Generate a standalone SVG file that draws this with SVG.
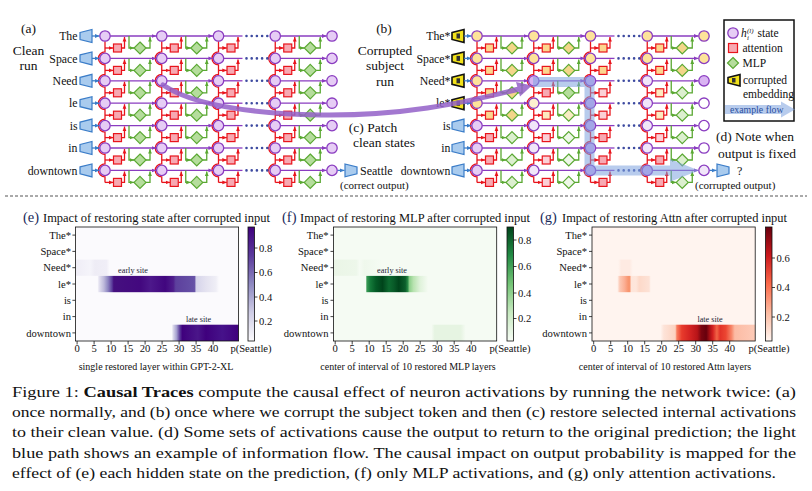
<svg xmlns="http://www.w3.org/2000/svg" width="812" height="491" viewBox="0 0 812 491">
<style>
text{font-family:"Liberation Serif","Times New Roman",serif;fill:#111}
.tok{font-size:11.8px;text-anchor:end}
.lbl{font-size:13.5px;text-anchor:middle}
.sm{font-size:11px}
.lg{font-size:11.5px}
.pu{stroke:#8a3cc0;stroke-width:1.3;fill:none}
.rd{stroke:#e8141c;stroke-width:1.3;fill:none}
.gn{stroke:#5aa832;stroke-width:1.3;fill:none}
.bl{stroke:#3a7cc8;stroke-width:1.3;fill:none}
.nd{stroke:#8a3cc0;stroke-width:1.3}
.bx{stroke:#e8141c;stroke-width:1.2}
.dm{stroke:#5aa832;stroke-width:1.2}
.emb{fill:#a9cbee;stroke:#3a7cc8;stroke-width:1.2}
.cemb{fill:#f2e21a;stroke:#111;stroke-width:1.6}
.dots{stroke:#3d4aa0;stroke-width:2.6;stroke-dasharray:0 5.2;stroke-linecap:round;fill:none}
.hm{font-size:10.6px}
.hr{font-size:10.6px;text-anchor:end}
.hc{font-size:10.6px;text-anchor:middle}
.xl{font-size:10px;text-anchor:middle}
.site{font-size:8.2px;text-anchor:middle;fill:#223}
.ttl{font-size:13px}
.pl{font-size:14.5px;fill:#1a2a5a}
.tk{stroke:#111;stroke-width:0.8}
.fr{fill:none;stroke:#111;stroke-width:0.8}
.cap{font-size:15.5px}
.Y{fill:#fde39a}.P{fill:#e6cdf5}.LY{fill:#fdf1cf}.W{fill:#ffffff}.LP{fill:#f1e6f9}.R{fill:#d9b3f2}.D{fill:#cfaaf0}
.PK{fill:#f7a9b2}.YB{fill:#fcd58e}.LYB{fill:#fdeac0}.LPK{fill:#fbd0d6}
.G{fill:#b5dd9c}.YD{fill:#f3d68a}.LG{fill:#dcefcf}.LYD{fill:#f8ecc4}.WG{fill:#eef7e8}
</style>
<defs>
<marker id="aP" markerUnits="userSpaceOnUse" markerWidth="5" markerHeight="5" refX="4.5" refY="2.5" orient="auto"><path d="M0,0.6 L4.5,2.5 L0,4.4z" fill="#8a3cc0"/></marker>
<marker id="aR" markerUnits="userSpaceOnUse" markerWidth="5" markerHeight="5" refX="4.5" refY="2.5" orient="auto"><path d="M0,0.6 L4.5,2.5 L0,4.4z" fill="#e8141c"/></marker>
<marker id="aG" markerUnits="userSpaceOnUse" markerWidth="5" markerHeight="5" refX="4.5" refY="2.5" orient="auto"><path d="M0,0.6 L4.5,2.5 L0,4.4z" fill="#5aa832"/></marker>
<marker id="aB" markerUnits="userSpaceOnUse" markerWidth="5" markerHeight="5" refX="4.5" refY="2.5" orient="auto"><path d="M0,0.6 L4.5,2.5 L0,4.4z" fill="#3a7cc8"/></marker>
<g id="cF">
<path class="pu" d="M5.2,0 H51.2" marker-end="url(#aP)"/>
<path class="rd" d="M0,12 H8.3" marker-end="url(#aR)"/>
<path class="rd" d="M16.5,12 H19.5 V1" marker-end="url(#aR)"/>
<path class="gn" d="M24,0 V12 H29" marker-end="url(#aG)"/>
<path class="gn" d="M41,12 H45 V1" marker-end="url(#aG)"/>
</g>
<g id="cH">
<path class="pu" d="M5.2,0 H24"/>
<path class="rd" d="M0,12 H8.3" marker-end="url(#aR)"/>
<path class="rd" d="M16.5,12 H19.5 V1" marker-end="url(#aR)"/>
<path class="dots" d="M28,0 H50"/>
</g>
<g id="rowL"><use href="#cF" x="105"/><use href="#cF" x="161.75"/><use href="#cH" x="218.5"/><use href="#cF" x="275.25"/></g>
<path id="rv" class="rd" d="M0,41.2 V51.9 a6.5,6.5 0 0 0 0,13 V74.3 a6.5,6.5 0 0 0 0,13 V96.7 a6.5,6.5 0 0 0 0,13 V119.1 a6.5,6.5 0 0 0 0,13 V141.5 a6.5,6.5 0 0 0 0,13 V163.9 a6.5,6.5 0 0 0 0,13 V182.4"/>
<rect id="bx" class="bx" x="8.5" y="8" width="8" height="8"/>
<polygon id="dm" class="dm" points="35,6 41,12 35,18 29,12"/>
<circle id="nd" class="nd" r="5.2"/>
<g id="rowFA">
<use href="#bx" x="105" class="PK"/><use href="#bx" x="161.75" class="PK"/><use href="#bx" x="218.5" class="PK"/><use href="#bx" x="275.25" class="PK"/>
<use href="#dm" x="105" class="G"/><use href="#dm" x="161.75" class="G"/><use href="#dm" x="275.25" class="G"/>
<use href="#nd" x="105" class="P"/><use href="#nd" x="161.75" class="P"/><use href="#nd" x="218.5" class="P"/><use href="#nd" x="275.25" class="P"/><use href="#nd" x="332" class="P"/>
</g>
<g id="inB"><polygon class="emb" points="80,-3.5 92,-6.5 92,6.5 80,3.5"/><path class="bl" d="M92,0 H99.5" marker-end="url(#aB)"/></g>
<g id="inC"><polygon class="cemb" points="452,-3.5 464,-6.5 464,6.5 452,3.5"/><rect x="456.5" y="-2.5" width="3.5" height="5" fill="#333"/><path class="bl" d="M464,0 H471.5" marker-end="url(#aB)"/></g>
<linearGradient id="eNeed"><stop offset="0" stop-color="#efedf6"/><stop offset="0.09" stop-color="#f5f4fa"/><stop offset="0.12" stop-color="#eeecf5"/><stop offset="0.19" stop-color="#f0eef7"/><stop offset="0.21" stop-color="#fbfafd"/></linearGradient>
<linearGradient id="eLe"><stop offset="0" stop-color="#fbfafd"/><stop offset="0.135" stop-color="#fbfafd"/><stop offset="0.145" stop-color="#e4e2f0"/><stop offset="0.175" stop-color="#bcb8da"/><stop offset="0.2" stop-color="#8c84c0"/><stop offset="0.225" stop-color="#5a3a9a"/><stop offset="0.235" stop-color="#45107f"/><stop offset="0.4" stop-color="#43087f"/><stop offset="0.46" stop-color="#4d188b"/><stop offset="0.55" stop-color="#41067f"/><stop offset="0.6" stop-color="#4f1e8c"/><stop offset="0.615" stop-color="#5d409d"/><stop offset="0.72" stop-color="#6550a6"/><stop offset="0.733" stop-color="#6a55a8"/><stop offset="0.738" stop-color="#d5d3ea"/><stop offset="0.8" stop-color="#e4e2f0"/><stop offset="0.86" stop-color="#efeef6"/><stop offset="0.88" stop-color="#fbfafd"/><stop offset="1" stop-color="#fbfafd"/></linearGradient>
<linearGradient id="eDown"><stop offset="0" stop-color="#fbfafd"/><stop offset="0.59" stop-color="#fbfafd"/><stop offset="0.6" stop-color="#d8d6ea"/><stop offset="0.62" stop-color="#a59fcf"/><stop offset="0.64" stop-color="#5a3a9a"/><stop offset="0.655" stop-color="#3f007d"/><stop offset="0.75" stop-color="#4a1689"/><stop offset="0.8" stop-color="#3f007d"/><stop offset="0.9" stop-color="#46128a"/><stop offset="1" stop-color="#3f007d"/></linearGradient>
<linearGradient id="fNeed"><stop offset="0" stop-color="#eaf5e6"/><stop offset="0.14" stop-color="#edf7ea"/><stop offset="0.16" stop-color="#f5fbf3"/><stop offset="0.19" stop-color="#eff8ec"/><stop offset="0.3" stop-color="#f5fbf3"/></linearGradient>
<linearGradient id="fLe"><stop offset="0" stop-color="#f5fbf3"/><stop offset="0.198" stop-color="#f5fbf3"/><stop offset="0.204" stop-color="#3a9a55"/><stop offset="0.225" stop-color="#157a3a"/><stop offset="0.26" stop-color="#045a26"/><stop offset="0.3" stop-color="#00441b"/><stop offset="0.34" stop-color="#0d6a30"/><stop offset="0.37" stop-color="#085a28"/><stop offset="0.4" stop-color="#00441b"/><stop offset="0.44" stop-color="#0c5f2c"/><stop offset="0.455" stop-color="#2a8c48"/><stop offset="0.465" stop-color="#8ccf8a"/><stop offset="0.49" stop-color="#b8e3b0"/><stop offset="0.53" stop-color="#dff2da"/><stop offset="0.58" stop-color="#f5fbf3"/><stop offset="1" stop-color="#f5fbf3"/></linearGradient>
<linearGradient id="fDown"><stop offset="0" stop-color="#f5fbf3"/><stop offset="0.6" stop-color="#f5fbf3"/><stop offset="0.62" stop-color="#e6f4e2"/><stop offset="0.78" stop-color="#e6f4e2"/><stop offset="0.81" stop-color="#f5fbf3"/><stop offset="1" stop-color="#f5fbf3"/></linearGradient>
<linearGradient id="gNeed"><stop offset="0" stop-color="#fff4ef"/><stop offset="0.16" stop-color="#fff4ef"/><stop offset="0.18" stop-color="#feeae2"/><stop offset="0.23" stop-color="#feeae2"/><stop offset="0.25" stop-color="#fff4ef"/><stop offset="1" stop-color="#fff4ef"/></linearGradient>
<linearGradient id="gLe"><stop offset="0" stop-color="#fff4ef"/><stop offset="0.155" stop-color="#fff4ef"/><stop offset="0.17" stop-color="#fcc9b5"/><stop offset="0.2" stop-color="#fbae93"/><stop offset="0.222" stop-color="#f8956f"/><stop offset="0.232" stop-color="#f8956f"/><stop offset="0.24" stop-color="#fee5da"/><stop offset="0.27" stop-color="#fee6db"/><stop offset="0.29" stop-color="#fdd9c9"/><stop offset="0.35" stop-color="#fde2d6"/><stop offset="0.36" stop-color="#fff4ef"/><stop offset="1" stop-color="#fff4ef"/></linearGradient>
<linearGradient id="gDown"><stop offset="0" stop-color="#fff4ef"/><stop offset="0.42" stop-color="#fff4ef"/><stop offset="0.44" stop-color="#fde3d8"/><stop offset="0.51" stop-color="#fcd2c0"/><stop offset="0.52" stop-color="#f87a5c"/><stop offset="0.55" stop-color="#e83b2c"/><stop offset="0.6" stop-color="#d42322"/><stop offset="0.645" stop-color="#b81418"/><stop offset="0.67" stop-color="#7a0510"/><stop offset="0.7" stop-color="#67000d"/><stop offset="0.72" stop-color="#a50f15"/><stop offset="0.74" stop-color="#d42020"/><stop offset="0.765" stop-color="#f26446"/><stop offset="0.785" stop-color="#e23228"/><stop offset="0.82" stop-color="#ec4632"/><stop offset="0.855" stop-color="#f7876a"/><stop offset="0.875" stop-color="#fcbba4"/><stop offset="1" stop-color="#fdcbb8"/></linearGradient>
<linearGradient id="cbP" x1="0" y1="0" x2="0" y2="1"><stop offset="0" stop-color="#3f007d"/><stop offset="0.25" stop-color="#5b3a9b"/><stop offset="0.5" stop-color="#8e89c1"/><stop offset="0.75" stop-color="#cfcde5"/><stop offset="1" stop-color="#fcfbfd"/></linearGradient>
<linearGradient id="cbG" x1="0" y1="0" x2="0" y2="1"><stop offset="0" stop-color="#00441b"/><stop offset="0.25" stop-color="#238b45"/><stop offset="0.5" stop-color="#74c476"/><stop offset="0.75" stop-color="#c7e9c0"/><stop offset="1" stop-color="#f7fcf5"/></linearGradient>
<linearGradient id="cbR" x1="0" y1="0" x2="0" y2="1"><stop offset="0" stop-color="#67000d"/><stop offset="0.25" stop-color="#cb181d"/><stop offset="0.5" stop-color="#fb6a4a"/><stop offset="0.75" stop-color="#fcbba1"/><stop offset="1" stop-color="#fff5f0"/></linearGradient>
</defs>
<rect width="812" height="491" fill="#fff"/>

<g id="connectors">
<use href="#rv" x="105"/><use href="#rv" x="161.75"/><use href="#rv" x="218.5"/><use href="#rv" x="275.25"/>
<use href="#rv" x="477"/><use href="#rv" x="533.75"/><use href="#rv" x="590.5"/><use href="#rv" x="647.25"/>
<use href="#rowL" y="36"/><use href="#rowL" y="58.4"/><use href="#rowL" y="80.8"/><use href="#rowL" y="103.2"/><use href="#rowL" y="125.6"/><use href="#rowL" y="148"/><use href="#rowL" y="170.4"/>
<use href="#rowL" x="372" y="36"/><use href="#rowL" x="372" y="58.4"/><use href="#rowL" x="372" y="80.8"/><use href="#rowL" x="372" y="103.2"/><use href="#rowL" x="372" y="125.6"/><use href="#rowL" x="372" y="148"/><use href="#rowL" x="372" y="170.4"/>
<path class="bl" d="M337.2,170.4 H344.5" marker-end="url(#aB)"/>
<path class="bl" d="M709.2,170.4 H716.5" marker-end="url(#aB)"/>
</g>

<g id="panel-a">
<text x="28.5" y="33" class="lbl">(a)</text>
<text x="28.5" y="55" class="lbl">Clean</text>
<text x="28.5" y="69.5" class="lbl">run</text>
<text x="77.5" y="40.2" class="tok">The</text>
<text x="77.5" y="62.6" class="tok">Space</text>
<text x="77.5" y="85" class="tok">Need</text>
<text x="77.5" y="107.4" class="tok">le</text>
<text x="77.5" y="129.8" class="tok">is</text>
<text x="77.5" y="152.2" class="tok">in</text>
<text x="77.5" y="174.6" class="tok">downtown</text>
<use href="#inB" y="36"/><use href="#inB" y="58.4"/><use href="#inB" y="80.8"/><use href="#inB" y="103.2"/><use href="#inB" y="125.6"/><use href="#inB" y="148"/><use href="#inB" y="170.4"/>
<use href="#rowFA" y="36"/><use href="#rowFA" y="58.4"/><use href="#rowFA" y="80.8"/><use href="#rowFA" y="103.2"/><use href="#rowFA" y="125.6"/><use href="#rowFA" y="148"/><use href="#rowFA" y="170.4"/>
<polygon class="emb" points="345,164 357,167 357,173.8 345,176.8"/>
<text x="360" y="174.5" font-size="12">Seattle</text>
<text x="340" y="189" class="sm">(correct output)</text>
<text x="373" y="132" class="lbl" font-size="14">(c) Patch</text>
<text x="384" y="147" class="lbl">clean states</text>
</g>

<g id="panel-b">
<text x="384" y="33" class="lbl">(b)</text>
<text x="385" y="55" class="lbl">Corrupted</text>
<text x="385" y="69.5" class="lbl">subject</text>
<text x="385" y="86" class="lbl">run</text>
<text x="450.5" y="40.2" class="tok">The*</text>
<text x="450.5" y="62.6" class="tok">Space*</text>
<text x="450.5" y="85" class="tok">Need*</text>
<text x="450.5" y="107.4" class="tok">le*</text>
<text x="450.5" y="129.8" class="tok">is</text>
<text x="450.5" y="152.2" class="tok">in</text>
<text x="450.5" y="174.6" class="tok">downtown</text>
<use href="#inC" y="36"/><use href="#inC" y="58.4"/><use href="#inC" y="80.8"/><use href="#inC" y="103.2"/>
<use href="#inB" x="372" y="125.6"/><use href="#inB" x="372" y="148"/><use href="#inB" x="372" y="170.4"/>
<g id="b-row0" transform="translate(0,36)">
<use href="#bx" x="477" class="YB"/><use href="#bx" x="533.75" class="YB"/><use href="#bx" x="590.5" class="YB"/><use href="#bx" x="647.25" class="YB"/>
<use href="#dm" x="477" class="YD"/><use href="#dm" x="533.75" class="YD"/><use href="#dm" x="647.25" class="YD"/>
<use href="#nd" x="477" class="Y"/><use href="#nd" x="533.75" class="Y"/><use href="#nd" x="590.5" class="Y"/><use href="#nd" x="647.25" class="Y"/><use href="#nd" x="704" class="Y"/>
</g>
<g id="b-row1" transform="translate(0,58.4)">
<use href="#bx" x="477" class="YB"/><use href="#bx" x="533.75" class="YB"/><use href="#bx" x="590.5" class="YB"/><use href="#bx" x="647.25" class="YB"/>
<use href="#dm" x="477" class="YD"/><use href="#dm" x="533.75" class="YD"/><use href="#dm" x="647.25" class="YD"/>
<use href="#nd" x="477" class="Y"/><use href="#nd" x="533.75" class="Y"/><use href="#nd" x="590.5" class="Y"/><use href="#nd" x="647.25" class="Y"/><use href="#nd" x="704" class="Y"/>
</g>
<g id="b-row2" transform="translate(0,80.8)">
<use href="#bx" x="477" class="YB"/><use href="#bx" x="533.75" class="PK"/><use href="#bx" x="590.5" class="LPK"/><use href="#bx" x="647.25" class="LYB"/>
<use href="#dm" x="477" class="YD"/><use href="#dm" x="533.75" class="G"/><use href="#dm" x="647.25" class="LG"/>
<use href="#nd" x="477" class="Y"/><use href="#nd" x="533.75" class="R" stroke-width="1.8"/><use href="#nd" x="590.5" class="D"/><use href="#nd" x="647.25" class="LP"/><use href="#nd" x="704" class="R"/>
</g>
<g id="b-row3" transform="translate(0,103.2)">
<use href="#bx" x="477" class="YB"/><use href="#bx" x="533.75" class="LYB"/><use href="#bx" x="590.5" class="LPK"/><use href="#bx" x="647.25" class="LYB"/>
<use href="#dm" x="477" class="YD"/><use href="#dm" x="533.75" class="LYD"/><use href="#dm" x="647.25" class="LG"/>
<use href="#nd" x="477" class="Y"/><use href="#nd" x="533.75" class="LY"/><use href="#nd" x="590.5" class="D"/><use href="#nd" x="647.25" class="LP"/><use href="#nd" x="704" class="W"/>
</g>
<g id="b-row4" transform="translate(0,125.6)">
<use href="#bx" x="477" class="PK"/><use href="#bx" x="533.75" class="LPK"/><use href="#bx" x="590.5" class="PK"/><use href="#bx" x="647.25" class="LPK"/>
<use href="#dm" x="477" class="LG"/><use href="#dm" x="533.75" class="WG"/><use href="#dm" x="647.25" class="LG"/>
<use href="#nd" x="477" class="P"/><use href="#nd" x="533.75" class="LP"/><use href="#nd" x="590.5" class="D"/><use href="#nd" x="647.25" class="LP"/><use href="#nd" x="704" class="W"/>
</g>
<g id="b-row5" transform="translate(0,148)">
<use href="#bx" x="477" class="PK"/><use href="#bx" x="533.75" class="LPK"/><use href="#bx" x="590.5" class="PK"/><use href="#bx" x="647.25" class="PK"/>
<use href="#dm" x="477" class="LG"/><use href="#dm" x="533.75" class="WG"/><use href="#dm" x="647.25" class="LG"/>
<use href="#nd" x="477" class="P"/><use href="#nd" x="533.75" class="LP"/><use href="#nd" x="590.5" class="D"/><use href="#nd" x="647.25" class="LP"/><use href="#nd" x="704" class="W"/>
</g>
<g id="b-row6" transform="translate(0,170.4)">
<use href="#bx" x="477" class="PK"/><use href="#bx" x="533.75" class="LPK"/><use href="#bx" x="590.5" class="PK"/><use href="#bx" x="647.25" class="PK"/>
<use href="#dm" x="477" class="LG"/><use href="#dm" x="533.75" class="WG"/><use href="#dm" x="647.25" class="LG"/>
<use href="#nd" x="477" class="P"/><use href="#nd" x="533.75" class="LP"/><use href="#nd" x="590.5" class="D"/><use href="#nd" x="647.25" class="D"/><use href="#nd" x="704" class="LP"/>
</g>
<polygon class="emb" points="717,164 729,167 729,173.8 717,176.8"/>
<text x="737" y="174.5" font-size="12">?</text>
<text x="695" y="189" class="sm">(corrupted output)</text>
<text x="755" y="141" class="lbl">(d) Note when</text>
<text x="757" y="157.5" class="lbl">output is fixed</text>
</g>

<g id="flow" opacity="0.55">
<path d="M533,82 H589.5 V170.4 H672" stroke="#7fa3e0" stroke-width="10" fill="none"/>
<polygon points="670,159 699,170.4 670,181.8" fill="#7fa3e0"/>
</g>
<g id="patch-arrow" opacity="0.85">
<path d="M163,85 C185,100 230,113 320,115 C400,116 460,104 519,89" stroke="#9360c8" stroke-width="5" fill="none" stroke-linecap="round"/>
<polygon points="532,85.5 516,82 520,96.5" fill="#9360c8"/>
</g>

<g id="legend">
<rect x="724" y="20" width="70" height="101" fill="#fff" stroke="#111" stroke-width="1.5"/>
<use href="#nd" x="733" y="33" class="P"/>
<text x="741" y="37" class="lg" font-style="italic">h</text>
<text x="747" y="32.5" font-size="7" font-style="italic">(l)</text>
<text x="747" y="40" font-size="7" font-style="italic">i</text>
<text x="757.5" y="37" class="lg">state</text>
<rect x="728.5" y="43.5" width="9" height="9" class="bx PK"/>
<text x="742.5" y="52" class="lg">attention</text>
<polygon points="733,57.5 738.5,63 733,68.5 727.5,63" class="dm G"/>
<text x="742.5" y="67" class="lg">MLP</text>
<polygon class="cemb" points="728,77.5 740,74.5 740,86 728,83"/>
<rect x="732" y="78" width="3.5" height="4.5" fill="#333"/>
<text x="743" y="84" class="lg">corrupted</text>
<text x="743" y="98" class="lg">embedding</text>
<g opacity="0.55"><path d="M725,109.5 H783" stroke="#7fa3e0" stroke-width="9"/><polygon points="781,101.5 795,109.5 781,117.5" fill="#7fa3e0"/></g>
<text x="730" y="112.5" font-size="9.8" style="fill:#2a4f9e">example flow</text>
</g>

<line x1="5" y1="196" x2="807" y2="196" stroke="#555" stroke-width="1" stroke-dasharray="3 2"/>

<g id="heatmap-e">
<text x="23" y="221.5"><tspan class="pl">(e)</tspan></text>
<text x="43" y="221.5" class="ttl" textLength="227" lengthAdjust="spacingAndGlyphs">Impact of restoring state after corrupted input</text>
<rect x="75.4" y="227" width="163.2" height="114" fill="#fbfafd"/>
<rect x="75.4" y="259.6" width="163.2" height="16.3" fill="url(#eNeed)"/>
<rect x="75.4" y="275.9" width="163.2" height="16.3" fill="url(#eLe)"/>
<rect x="75.4" y="324.7" width="163.2" height="16.3" fill="url(#eDown)"/>
<rect x="75.4" y="227" width="163.2" height="114" class="fr"/>
<text x="133" y="272.5" class="site">early site</text>
<text x="198.5" y="321.5" class="site">late site</text>
<path class="tk" d="M75.4,235.1h-3M75.4,251.4h-3M75.4,267.7h-3M75.4,284h-3M75.4,300.3h-3M75.4,316.6h-3M75.4,332.9h-3"/>
<text x="71" y="238.7" class="hr">The*</text><text x="71" y="255" class="hr">Space*</text><text x="71" y="271.3" class="hr">Need*</text><text x="71" y="287.6" class="hr">le*</text><text x="71" y="303.9" class="hr">is</text><text x="71" y="320.2" class="hr">in</text><text x="71" y="336.5" class="hr">downtown</text>
<path class="tk" d="M77.1,341v3.5M94.1,341v3.5M111.1,341v3.5M128.1,341v3.5M145.1,341v3.5M162.1,341v3.5M179.1,341v3.5M196.1,341v3.5M213.1,341v3.5"/>
<text y="352" class="hc"><tspan x="77.1">0</tspan><tspan x="94.1">5</tspan><tspan x="111.1">10</tspan><tspan x="128.1">15</tspan><tspan x="145.1">20</tspan><tspan x="162.1">25</tspan><tspan x="179.1">30</tspan><tspan x="196.1">35</tspan><tspan x="213.1">40</tspan></text>
<text x="156" y="369.5" class="xl">single restored layer within GPT-2-XL</text>
<rect x="248" y="227" width="6.5" height="114" fill="url(#cbP)" stroke="#111" stroke-width="0.8"/>
<path class="tk" d="M254.5,248h3M254.5,272.5h3M254.5,297h3M254.5,321h3"/>
<text x="259" y="251.6" class="hm">0.8</text><text x="259" y="276.1" class="hm">0.6</text><text x="259" y="300.6" class="hm">0.4</text><text x="259" y="324.6" class="hm">0.2</text>
<text x="251" y="352" class="hc">p(Seattle)</text>
</g>

<g id="heatmap-f">
<text x="282" y="221.5"><tspan class="pl">(f)</tspan></text>
<text x="300" y="221.5" class="ttl" textLength="230" lengthAdjust="spacingAndGlyphs">Impact of restoring MLP after corrupted input</text>
<rect x="333.5" y="227" width="163.2" height="114" fill="#f5fbf3"/>
<rect x="333.5" y="259.6" width="163.2" height="16.3" fill="url(#fNeed)"/>
<rect x="333.5" y="275.9" width="163.2" height="16.3" fill="url(#fLe)"/>
<rect x="333.5" y="324.7" width="163.2" height="16.3" fill="url(#fDown)"/>
<rect x="333.5" y="227" width="163.2" height="114" class="fr"/>
<text x="392" y="273" class="site">early site</text>
<path class="tk" d="M333.5,235.1h-3M333.5,251.4h-3M333.5,267.7h-3M333.5,284h-3M333.5,300.3h-3M333.5,316.6h-3M333.5,332.9h-3"/>
<text x="328.5" y="238.7" class="hr">The*</text><text x="328.5" y="255" class="hr">Space*</text><text x="328.5" y="271.3" class="hr">Need*</text><text x="328.5" y="287.6" class="hr">le*</text><text x="328.5" y="303.9" class="hr">is</text><text x="328.5" y="320.2" class="hr">in</text><text x="328.5" y="336.5" class="hr">downtown</text>
<path class="tk" d="M335.2,341v3.5M352.2,341v3.5M369.2,341v3.5M386.2,341v3.5M403.2,341v3.5M420.2,341v3.5M437.2,341v3.5M454.2,341v3.5M471.2,341v3.5"/>
<text y="352" class="hc"><tspan x="335.2">0</tspan><tspan x="352.2">5</tspan><tspan x="369.2">10</tspan><tspan x="386.2">15</tspan><tspan x="403.2">20</tspan><tspan x="420.2">25</tspan><tspan x="437.2">30</tspan><tspan x="454.2">35</tspan><tspan x="471.2">40</tspan></text>
<text x="408" y="369.5" class="xl">center of interval of 10 restored MLP layers</text>
<rect x="507" y="227" width="6.5" height="114" fill="url(#cbG)" stroke="#111" stroke-width="0.8"/>
<path class="tk" d="M513.5,240h3M513.5,266.5h3M513.5,293h3M513.5,318.5h3"/>
<text x="518" y="243.6" class="hm">0.8</text><text x="518" y="270.1" class="hm">0.6</text><text x="518" y="296.6" class="hm">0.4</text><text x="518" y="322.1" class="hm">0.2</text>
<text x="510" y="352" class="hc">p(Seattle)</text>
</g>

<g id="heatmap-g">
<text x="540" y="221.5"><tspan class="pl">(g)</tspan></text>
<text x="562" y="221.5" class="ttl" textLength="225" lengthAdjust="spacingAndGlyphs">Impact of restoring Attn after corrupted input</text>
<rect x="592" y="227" width="163.2" height="114" fill="#fff4ef"/>
<rect x="592" y="259.6" width="163.2" height="16.3" fill="url(#gNeed)"/>
<rect x="592" y="275.9" width="163.2" height="16.3" fill="url(#gLe)"/>
<rect x="592" y="324.7" width="163.2" height="16.3" fill="url(#gDown)"/>
<rect x="592" y="227" width="163.2" height="114" class="fr"/>
<text x="710" y="321.5" class="site">late site</text>
<path class="tk" d="M592,235.1h-3M592,251.4h-3M592,267.7h-3M592,284h-3M592,300.3h-3M592,316.6h-3M592,332.9h-3"/>
<text x="587" y="238.7" class="hr">The*</text><text x="587" y="255" class="hr">Space*</text><text x="587" y="271.3" class="hr">Need*</text><text x="587" y="287.6" class="hr">le*</text><text x="587" y="303.9" class="hr">is</text><text x="587" y="320.2" class="hr">in</text><text x="587" y="336.5" class="hr">downtown</text>
<path class="tk" d="M593.7,341v3.5M610.7,341v3.5M627.7,341v3.5M644.7,341v3.5M661.7,341v3.5M678.7,341v3.5M695.7,341v3.5M712.7,341v3.5M729.7,341v3.5"/>
<text y="352" class="hc"><tspan x="593.7">0</tspan><tspan x="610.7">5</tspan><tspan x="627.7">10</tspan><tspan x="644.7">15</tspan><tspan x="661.7">20</tspan><tspan x="678.7">25</tspan><tspan x="695.7">30</tspan><tspan x="712.7">35</tspan><tspan x="729.7">40</tspan></text>
<text x="665" y="369.5" class="xl">center of interval of 10 restored Attn layers</text>
<rect x="765.5" y="227" width="6.5" height="114" fill="url(#cbR)" stroke="#111" stroke-width="0.8"/>
<path class="tk" d="M772,258h3M772,287.5h3M772,317h3"/>
<text x="776.5" y="261.6" class="hm">0.6</text><text x="776.5" y="291.1" class="hm">0.4</text><text x="776.5" y="320.6" class="hm">0.2</text>
<text x="769" y="352" class="hc">p(Seattle)</text>
</g>

<g id="caption">
<text x="12" y="397" class="cap" textLength="784" lengthAdjust="spacingAndGlyphs">Figure 1: <tspan font-weight="bold">Causal Traces</tspan> compute the causal effect of neuron activations by running the network twice: (a)</text>
<text x="12" y="417.2" class="cap" textLength="784" lengthAdjust="spacingAndGlyphs">once normally, and (b) once where we corrupt the subject token and then (c) restore selected internal activations</text>
<text x="12" y="437.4" class="cap" textLength="784" lengthAdjust="spacingAndGlyphs">to their clean value. (d) Some sets of activations cause the output to return to the original prediction; the light</text>
<text x="12" y="457.6" class="cap" textLength="784" lengthAdjust="spacingAndGlyphs">blue path shows an example of information flow. The causal impact on output probability is mapped for the</text>
<text x="12" y="477.8" class="cap" textLength="764" lengthAdjust="spacingAndGlyphs">effect of (e) each hidden state on the prediction, (f) only MLP activations, and (g) only attention activations.</text>
</g>
</svg>
